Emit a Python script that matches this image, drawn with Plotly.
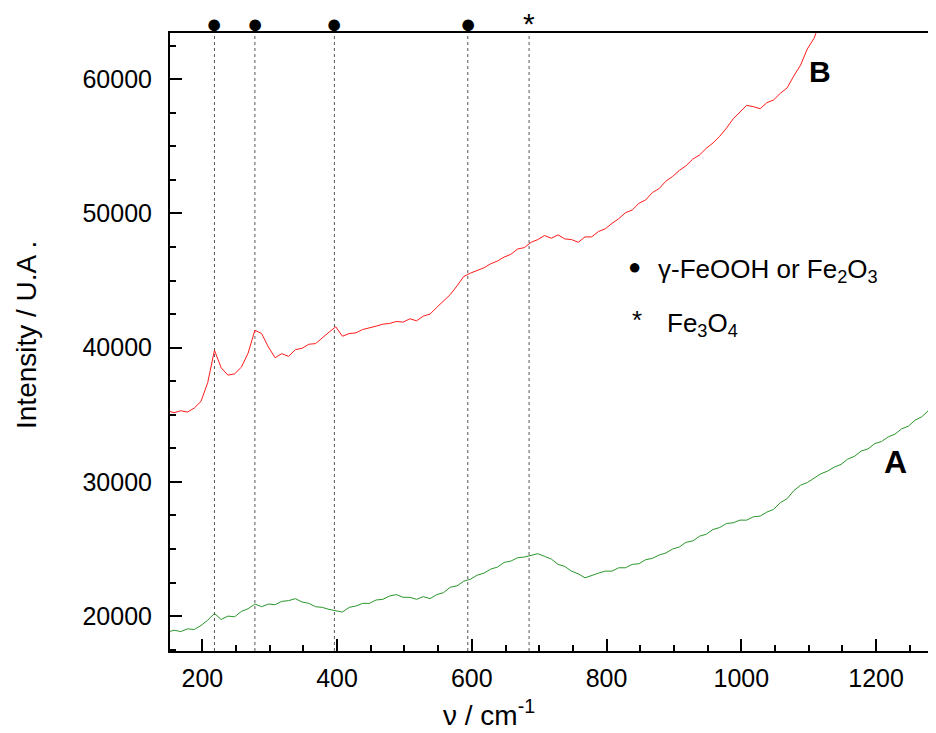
import plotly.graph_objects as go

# ---------------- data ----------------
WAVENUMBER = list(range(148, 1289, 10))  # sampling grid, cm^-1

SPECTRUM_A = [
    18800, 18950, 18850, 19050, 19000, 19300, 19700, 20200, 19750, 20000,
    19950, 20350, 20550, 20900, 20700, 20900, 20850, 21100, 21150, 21300,
    21050, 20950, 20700, 20650, 20500, 20400, 20300, 20650, 20750, 20950,
    20950, 21200, 21250, 21500, 21600, 21400, 21400, 21250, 21450, 21300,
    21600, 21750, 22150, 22250, 22600, 22750, 23050, 23200, 23500, 23650,
    24000, 24100, 24350, 24400, 24550, 24650, 24450, 24250, 23850, 23700,
    23350, 23150, 22850, 23050, 23200, 23350, 23350, 23600, 23600, 23850,
    23900, 24200, 24300, 24550, 24700, 25000, 25150, 25500, 25600, 25950,
    26100, 26450, 26600, 26900, 26950, 27150, 27150, 27400, 27450, 27750,
    27950, 28450, 28750, 29350, 29750, 29950, 30250, 30600, 30800, 31100,
    31300, 31700, 31900, 32300, 32450, 32850, 33000, 33350, 33550, 33950,
    34150, 34600, 34850, 35350, 35800,
]

WAVENUMBER_B = list(range(148, 1119, 10))
SPECTRUM_B = [
    35300, 35150, 35300, 35200, 35500, 36000, 37400, 39800, 38500, 37950,
    38050, 38550, 39600, 41300, 41050, 40050, 39250, 39550, 39350, 39850,
    39950, 40250, 40300, 40750, 41150, 41550, 40850, 41050, 41100, 41350,
    41450, 41600, 41750, 41800, 41950, 41900, 42150, 42000, 42350, 42500,
    43000, 43500, 43950, 44600, 45300, 45550, 45750, 45950, 46250, 46450,
    46750, 46950, 47350, 47450, 47850, 48050, 48350, 48150, 48400, 48100,
    48050, 47850, 48250, 48250, 48650, 48850, 49250, 49600, 50050, 50250,
    50750, 51000, 51550, 51850, 52400, 52750, 53200, 53550, 54050, 54350,
    54850, 55250, 55750, 56350, 57050, 57550, 58050, 57950, 57800, 58250,
    58450, 58950, 59350, 60250, 61050, 62250, 63050, 64400,
]

PEAK_POSITIONS = [218, 278, 396, 594, 685]
PEAK_SYMBOLS = ["●", "●", "●", "●", "*"]

X_TICKS = [200, 400, 600, 800, 1000, 1200]
Y_TICKS = [20000, 30000, 40000, 50000, 60000]

LEGEND_LINES = ["γ-FeOOH or Fe<sub>2</sub>O<sub>3</sub>", "Fe<sub>3</sub>O<sub>4</sub>"]
LEGEND_SYMBOLS = ["●", "*"]

# ---------------- figure ----------------
FONT = "Arial, Liberation Sans, sans-serif"
OFF = 8  # default page margin of the html body
W, H = 936, 733
L, R, T, B = 170 - OFF, OFF, 33 - OFF, 733 - 651 + OFF
PW, PH = W - L - R, H - T - B


def px_x(px):
    return (px - OFF - L) / PW


def px_y(py):
    return (H - B - (py - OFF)) / PH


def note(x, y, text, size, xref="paper", xanchor="center", bold=False, angle=0):
    return dict(x=x, y=y, xref=xref, yref="paper", text=f"<b>{text}</b>" if bold else text,
                showarrow=False, xanchor=xanchor, yanchor="middle", textangle=angle,
                font=dict(family=FONT, size=size, color="black"))


fig = go.Figure()
fig.add_trace(go.Scatter(x=WAVENUMBER, y=SPECTRUM_A, mode="lines",
                         line=dict(color="#2a962a", width=1), name="A"))
fig.add_trace(go.Scatter(x=WAVENUMBER_B, y=SPECTRUM_B, mode="lines",
                         line=dict(color="#ff1a1a", width=1), name="B"))

shapes = []
annotations = []
for pos, sym in zip(PEAK_POSITIONS, PEAK_SYMBOLS):
    shapes.append(dict(type="line", xref="x", yref="paper", x0=pos, x1=pos, y0=0, y1=1,
                       line=dict(color="#555555", width=1, dash="dot"), layer="below"))
    if sym == "●":
        annotations.append(note(pos, px_y(24), sym, 27, xref="x"))
    else:
        annotations.append(note(pos, px_y(23), sym, 30, xref="x"))

# legend-like text
annotations.append(note(px_x(634), px_y(266), LEGEND_SYMBOLS[0], 22))
annotations.append(note(px_x(656), px_y(270), LEGEND_LINES[0], 26, xanchor="left"))
annotations.append(note(px_x(637), px_y(320), LEGEND_SYMBOLS[1], 26))
annotations.append(note(px_x(665), px_y(324), LEGEND_LINES[1], 26, xanchor="left"))

# curve labels
annotations.append(note(px_x(820), px_y(72), "B", 30, bold=True))
annotations.append(note(px_x(895), px_y(462), "A", 32, bold=True))

# axis titles
annotations.append(note(px_x(489), px_y(713), "ν / cm<sup>-1</sup>", 28))
annotations.append(note(px_x(26), px_y(335), "Intensity / U.A .", 28, angle=-90))

fig.update_layout(
    width=W, height=H,
    margin=dict(l=L, r=R, t=T, b=B),
    paper_bgcolor="white", plot_bgcolor="white",
    showlegend=False,
    shapes=shapes, annotations=annotations,
    font=dict(family=FONT, color="black"),
)
fig.update_xaxes(
    range=[152, 1289], showgrid=False, zeroline=False,
    showline=True, linecolor="black", linewidth=2, mirror=True,
    ticks="inside", ticklen=12, tickwidth=2, tickcolor="black",
    tickvals=X_TICKS, ticktext=[str(v) for v in X_TICKS],
    tickfont=dict(family=FONT, size=25, color="black"),
    ticklabelstandoff=4,
    minor=dict(ticks="inside", ticklen=6, tickwidth=2, tickcolor="black", dtick=50, showgrid=False),
)
fig.update_yaxes(
    range=[17400, 63440], showgrid=False, zeroline=False,
    showline=True, linecolor="black", linewidth=2,
    ticks="inside", ticklen=12, tickwidth=2, tickcolor="black",
    tickvals=Y_TICKS, ticktext=[str(v) for v in Y_TICKS],
    tickfont=dict(family=FONT, size=25, color="black"),
    ticklabelstandoff=11,
    minor=dict(ticks="inside", ticklen=6, tickwidth=2, tickcolor="black", dtick=2500, showgrid=False),
)

fig.write_html("out.html")
